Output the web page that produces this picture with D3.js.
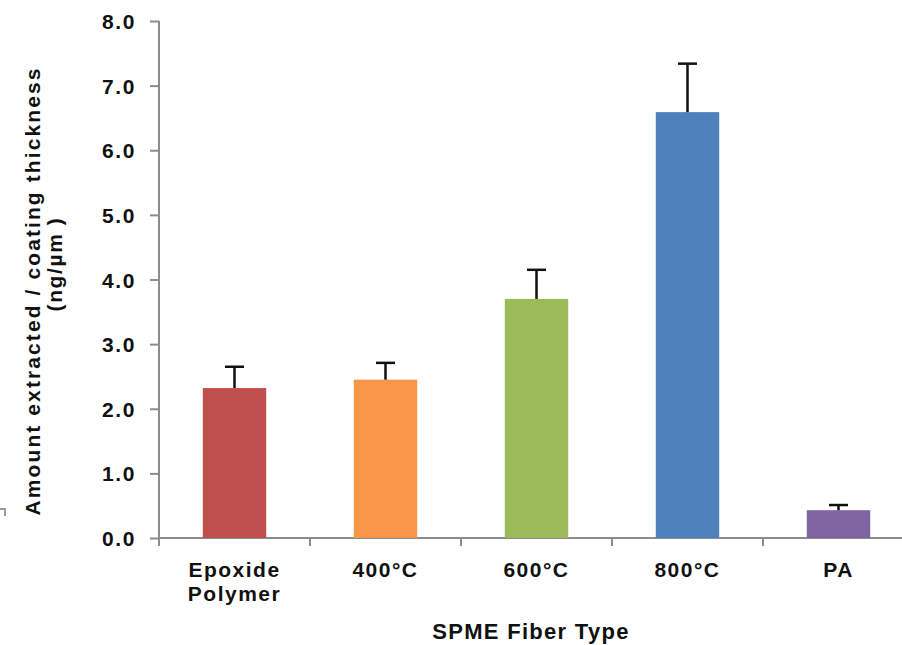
<!DOCTYPE html>
<html><head><meta charset="utf-8">
<script src="https://cdn.jsdelivr.net/npm/d3@7"></script>
<style>
body{margin:0;background:#fff;}
text{font-family:"Liberation Sans",Arial,sans-serif;font-weight:bold;fill:#111;}
</style></head>
<body>
<svg id="c" width="902" height="645"></svg>
<script>
const categories = ["Epoxide|Polymer", "400°C", "600°C", "800°C", "PA"];
const values = [2.32, 2.45, 3.70, 6.59, 0.43];
const errors = [0.33, 0.26, 0.45, 0.75, 0.08];
const colors = ["#C0504D", "#F79646", "#9BBB59", "#4F81BD", "#8064A2"];
const yTicks = [0, 1, 2, 3, 4, 5, 6, 7, 8];

const svg = d3.select("#c");
const x0 = 159, y0 = 538, yTop = 21, step = 151;
const x = d3.scaleBand().domain(categories).range([x0, x0 + step * categories.length]).paddingInner(0.58).paddingOuter(0.29);
const y = d3.scaleLinear().domain([0, 8]).range([y0, yTop]);
const axisColor = "#8c8c8c";

// y axis
const ya = svg.append("g").attr("transform", `translate(${x0},0)`)
  .call(d3.axisLeft(y).tickValues(yTicks).tickFormat(d3.format(".1f")).tickSize(9).tickSizeOuter(0));
ya.select(".domain").remove();
ya.selectAll(".tick line").attr("stroke", axisColor).attr("stroke-width", 2);
ya.selectAll(".tick text").attr("x", -23).attr("dy", "0.36em")
  .style("font-size", "21px").style("letter-spacing", "1.6px").attr("fill", "#111").attr("font-family", null);
svg.append("line").attr("x1", x0).attr("x2", x0).attr("y1", yTop).attr("y2", y0 + 8)
  .attr("stroke", axisColor).attr("stroke-width", 2);

// x axis
svg.append("line").attr("x1", x0).attr("x2", 902).attr("y1", y0).attr("y2", y0)
  .attr("stroke", axisColor).attr("stroke-width", 2);
d3.range(categories.length + 1).forEach(i => {
  const xx = x0 + i * step;
  svg.append("line").attr("x1", xx).attr("x2", xx).attr("y1", y0).attr("y2", y0 + 8)
    .attr("stroke", axisColor).attr("stroke-width", 2);
});

// bars
svg.selectAll("rect.bar").data(categories).enter().append("rect")
  .attr("x", d => x(d)).attr("width", x.bandwidth())
  .attr("y", (d, i) => y(values[i])).attr("height", (d, i) => y0 - y(values[i]))
  .attr("fill", (d, i) => colors[i]);

// error bars
categories.forEach((c, i) => {
  const cx = x(c) + x.bandwidth() / 2;
  svg.append("line").attr("x1", cx).attr("x2", cx).attr("y1", y(values[i])).attr("y2", y(values[i] + errors[i]))
    .attr("stroke", "#111").attr("stroke-width", 2.5);
  svg.append("line").attr("x1", cx - 9.5).attr("x2", cx + 9.5).attr("y1", y(values[i] + errors[i])).attr("y2", y(values[i] + errors[i]))
    .attr("stroke", "#111").attr("stroke-width", 2.5);
});

// category labels
categories.forEach(c => {
  const cx = x(c) + x.bandwidth() / 2;
  const lines = c.split("|");
  const t = svg.append("text").attr("text-anchor", "middle").style("font-size", "21px").style("letter-spacing", "1.5px");
  lines.forEach((l, j) => t.append("tspan").attr("x", cx).attr("y", 577 + j * 24).text(l));
});

// axis titles
svg.append("text").attr("text-anchor", "middle").attr("x", 531).attr("y", 639)
  .style("font-size", "22px").style("letter-spacing", "1.3px").text("SPME Fiber Type");
svg.append("text").attr("text-anchor", "middle").attr("transform", "translate(40,291) rotate(-90)")
  .style("font-size", "21px").style("letter-spacing", "2.1px").text("Amount extracted / coating thickness");
svg.append("text").attr("text-anchor", "middle").attr("transform", "translate(62,264) rotate(-90)")
  .style("font-size", "21px").style("letter-spacing", "1.6px").text("(ng/µm )");

// stray mark at left edge
svg.append("path").attr("d", "M0,509 H5 V516").attr("fill", "none").attr("stroke", "#999").attr("stroke-width", 2);
</script>
</body></html>
